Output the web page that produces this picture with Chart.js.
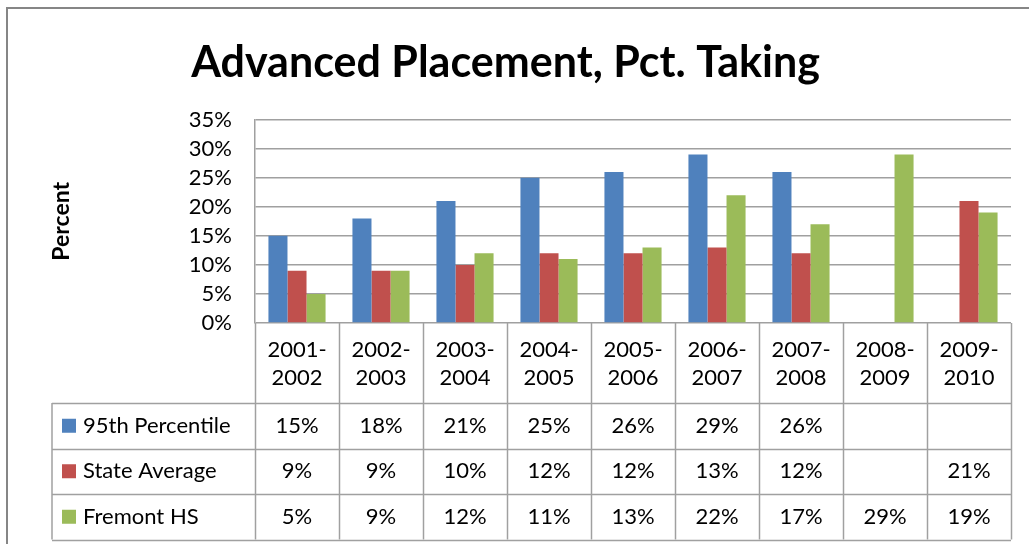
<!DOCTYPE html>
<html>
<head>
<meta charset="utf-8">
<script src="https://cdn.jsdelivr.net/npm/chart.js@4"></script>
<style>
  html, body { margin: 0; padding: 0; background: #fff; }
  #wrap { width: 1029px; height: 544px; }
</style>
</head>
<body>
<div id="wrap"><canvas id="grafico" width="1029" height="544"></canvas></div>
<script>
// dados
const categorias = [['2001-', '2002'], ['2002-', '2003'], ['2003-', '2004'], ['2004-', '2005'],
  ['2005-', '2006'], ['2006-', '2007'], ['2007-', '2008'], ['2008-', '2009'], ['2009-', '2010']];
const percentil95 = [15, 18, 21, 25, 26, 29, 26, null, null];
const mediaEstado = [9, 9, 10, 12, 12, 13, 12, null, 21];
const fremontHS = [5, 9, 12, 11, 13, 22, 17, 29, 19];
const ticksY = [0, 5, 10, 15, 20, 25, 30, 35];

const fonte = 'Lato, "Open Sans", sans-serif';
const corLinha = '#A0A0A0';

// desenha a tabela de dados abaixo do gráfico (como no Excel)
const tabelaPlugin = {
  id: 'tabela',
  beforeDraw(chart) {
    const c = chart.ctx;
    c.save();
    c.fillStyle = '#fff';
    c.fillRect(0, 0, chart.width, chart.height);
    c.strokeStyle = '#868686';
    c.lineWidth = 2;
    c.strokeRect(7, 8, chart.width + 20, chart.height + 20);
    c.restore();
  },
  afterDraw(chart) {
    const c = chart.ctx;
    const area = chart.chartArea;
    const xs = chart.scales.x;
    const n = categorias.length;
    const larg = (area.right - area.left) / n;
    const topo = area.bottom;
    const cab = topo + 80;
    const alturaLinha = 45.5;
    const fim = cab + alturaLinha * 3;
    const esquerda = 52;

    c.save();
    c.strokeStyle = corLinha;
    c.lineWidth = 1.5;
    // linhas verticais
    for (let i = 0; i <= n; i++) {
      const x = Math.round(area.left + i * larg) + 0.5;
      c.beginPath();
      c.moveTo(x, topo);
      c.lineTo(x, fim);
      c.stroke();
    }
    c.beginPath();
    c.moveTo(esquerda, cab);
    c.lineTo(esquerda, fim);
    c.stroke();
    // linhas horizontais
    for (let r = 0; r <= 3; r++) {
      const y = Math.round(cab + r * alturaLinha) + 0.5;
      c.beginPath();
      c.moveTo(esquerda, y);
      c.lineTo(area.right, y);
      c.stroke();
    }

    c.fillStyle = '#000';
    c.font = '22px ' + fonte;
    c.textAlign = 'center';
    c.textBaseline = 'middle';
    categorias.forEach((cat, i) => {
      const x = xs.getPixelForValue(i);
      c.fillText(cat[0], x, topo + 27);
      c.fillText(cat[1], x, topo + 55);
    });

    const series = chart.data.datasets;
    series.forEach((ds, r) => {
      const y = cab + r * alturaLinha + alturaLinha / 2;
      c.fillStyle = ds.backgroundColor;
      c.fillRect(esquerda + 10, y - 7, 14, 14);
      c.fillStyle = '#000';
      c.textAlign = 'left';
      c.fillText(ds.label, esquerda + 31, y);
      c.textAlign = 'center';
      ds.data.forEach((v, i) => {
        if (v !== null) c.fillText(v + '%', xs.getPixelForValue(i), y);
      });
    });
    c.restore();
  }
};

const ctx = document.getElementById('grafico').getContext('2d');
const meuGrafico = new Chart(ctx, {
  type: 'bar',
  data: {
    labels: categorias.map(c => c.join('')),
    datasets: [
      { label: '95th Percentile', data: percentil95, backgroundColor: '#4F81BD' },
      { label: 'State Average', data: mediaEstado, backgroundColor: '#C0504D' },
      { label: 'Fremont HS', data: fremontHS, backgroundColor: '#9BBB59' }
    ]
  },
  options: {
    responsive: false,
    animation: false,
    layout: { padding: { left: 0, right: 18, top: 0, bottom: 221 } },
    datasets: { bar: { categoryPercentage: 0.68, barPercentage: 1 } },
    plugins: {
      legend: { display: false },
      tooltip: { enabled: false },
      title: {
        display: true,
        text: 'Advanced Placement, Pct. Taking',
        color: '#000',
        font: { family: fonte, size: 43, weight: 'bold' },
        padding: { top: 37, bottom: 31 }
      }
    },
    scales: {
      x: {
        display: false
      },
      y: {
        min: 0,
        max: 35,
        afterBuildTicks(scale) {
          scale.ticks = ticksY.map(v => ({ value: v }));
        },
        afterFit(scale) { scale.width = 255; },
        ticks: {
          color: '#000',
          font: { family: fonte, size: 22, lineHeight: 1 },
          padding: 23,
          autoSkip: false,
          callback: v => v + '%'
        },
        grid: { color: corLinha, lineWidth: 1.5, drawTicks: false },
        border: { color: corLinha, width: 1.5 },
        title: {
          display: true,
          text: 'Percent',
          color: '#000',
          font: { family: fonte, size: 23, weight: 'bold' },
          padding: { top: 48, bottom: 0 }
        }
      }
    }
  },
  plugins: [tabelaPlugin]
});
</script>
</body>
</html>
